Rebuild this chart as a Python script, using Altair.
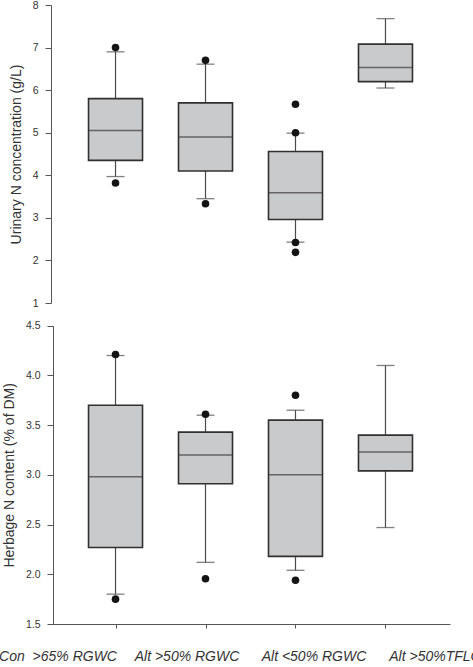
import altair as alt
import pandas as pd

# Treatment groups (x axis)
categories = ["Con\u00a0 >65% RGWC", "Alt >50% RGWC", "Alt <50% RGWC", "Alt >50%TFLC"]

# Urinary N concentration (g/L): whisker ends, quartiles and medians
urine_lo = [3.97, 3.45, 2.43, 6.05]
urine_q1 = [4.35, 4.10, 2.96, 6.20]
urine_med = [5.05, 4.90, 3.59, 6.53]
urine_q3 = [5.80, 5.70, 4.56, 7.08]
urine_hi = [6.90, 6.61, 4.99, 7.68]
urine_out_group = [0, 0, 1, 1, 2, 2, 2, 2]
urine_out_value = [7.00, 3.82, 6.70, 3.33, 5.67, 5.00, 2.42, 2.19]

# Herbage N content (% of DM)
herb_lo = [1.80, 2.12, 2.04, 2.47]
herb_q1 = [2.27, 2.91, 2.18, 3.04]
herb_med = [2.98, 3.20, 3.00, 3.23]
herb_q3 = [3.70, 3.43, 3.55, 3.40]
herb_hi = [4.20, 3.60, 3.65, 4.10]
herb_out_group = [0, 0, 1, 1, 2, 2]
herb_out_value = [4.21, 1.75, 3.61, 1.955, 3.80, 1.94]

FONT = "Liberation Sans"
TEXT = "#333333"
LINE = "#555555"


def stats_frame(lo, q1, med, q3, hi):
    return pd.DataFrame({"cat": categories, "lo": lo, "q1": q1, "med": med, "q3": q3, "hi": hi})


def outlier_frame(groups, values):
    return pd.DataFrame({"cat": [categories[g] for g in groups], "val": values})


x_scale = alt.Scale(type="point", padding=0.717, domain=categories)
x_axis = alt.Axis(
    title=None,
    labelFont=FONT,
    labelFontSize=14,
    labelFontStyle="italic",
    labelColor=TEXT,
    labelAngle=0,
    labelPadding=21,
    labelOverlap=False,
    labelLimit=300,
    tickSize=4,
    tickColor=LINE,
    domainColor=LINE,
    labelOffset={
        "condition": [
            {"test": "indexof(datum.value, 'Con') == 0", "value": -58},
            {"test": "datum.value == 'Alt >50% RGWC'", "value": -19},
            {"test": "datum.value == 'Alt <50% RGWC'", "value": 18},
        ],
        "value": 49,
    },
)
X = alt.X("cat:N", scale=x_scale, axis=x_axis, sort=categories)


def box_panel(stats, outliers, scale, axis):
    base = alt.Chart(stats)

    def y(field):
        return alt.Y(f"{field}:Q", scale=scale, axis=axis)

    whisker = base.mark_rule(color="#4a4a4a", strokeWidth=1.2).encode(
        x=X, y=y("lo"), y2="hi:Q"
    )
    cap_lo = base.mark_tick(size=18, thickness=1.3, color="#4a4a4a").encode(x=X, y=y("lo"))
    cap_hi = base.mark_tick(size=18, thickness=1.3, color="#4a4a4a").encode(x=X, y=y("hi"))
    box = base.mark_bar(size=54, color="#c9cacc", stroke="#303030", strokeWidth=1.6).encode(
        x=X, y=y("q1"), y2="q3:Q"
    )
    median = base.mark_tick(size=53, thickness=1.5, color="#3a3a3a").encode(x=X, y=y("med"))
    points = alt.Chart(outliers).mark_circle(size=58, color="#141414", opacity=1).encode(
        x=X, y=y("val")
    )
    return alt.layer(whisker, cap_lo, cap_hi, box, median, points)


common_axis = dict(
    orient="left",
    grid=False,
    labelFont=FONT,
    labelFontSize=10.5,
    labelColor=TEXT,
    labelPadding=7,
    tickSize=6,
    tickColor=LINE,
    domainColor=LINE,
    titleFont=FONT,
    titleFontSize=14,
    titleFontWeight="normal",
    titleColor=TEXT,
    titlePadding=9,
)

urine_scale = alt.Scale(domain=[1, 8], range=[298, 0], nice=False, zero=False)
urine_axis = alt.Axis(
    title="Urinary N concentration (g/L)",
    values=[1, 2, 3, 4, 5, 6, 7, 8],
    format="d",
    **common_axis,
)

herb_scale = alt.Scale(domain=[1.5, 4.5], range=[619, 320.7], nice=False, zero=False)
herb_axis = alt.Axis(
    title="Herbage N content (% of DM)",
    values=[1.5, 2.0, 2.5, 3.0, 3.5, 4.0, 4.5],
    format=".1f",
    offset=-2,
    **common_axis,
)

urine_panel = box_panel(
    stats_frame(urine_lo, urine_q1, urine_med, urine_q3, urine_hi),
    outlier_frame(urine_out_group, urine_out_value),
    urine_scale,
    urine_axis,
)
herb_panel = box_panel(
    stats_frame(herb_lo, herb_q1, herb_med, herb_q3, herb_hi),
    outlier_frame(herb_out_group, herb_out_value),
    herb_scale,
    herb_axis,
)

chart = (
    alt.layer(urine_panel, herb_panel)
    .resolve_scale(y="independent")
    .resolve_axis(y="independent")
    .properties(
        width=399,
        height=619,
        autosize=alt.AutoSizeParams(type="none"),
        padding={"left": 51, "top": 5, "right": 23, "bottom": 43},
        background="white",
    )
    .configure_view(stroke=None)
)

chart.save("out.html", embed_options={"renderer": "svg", "actions": False})
